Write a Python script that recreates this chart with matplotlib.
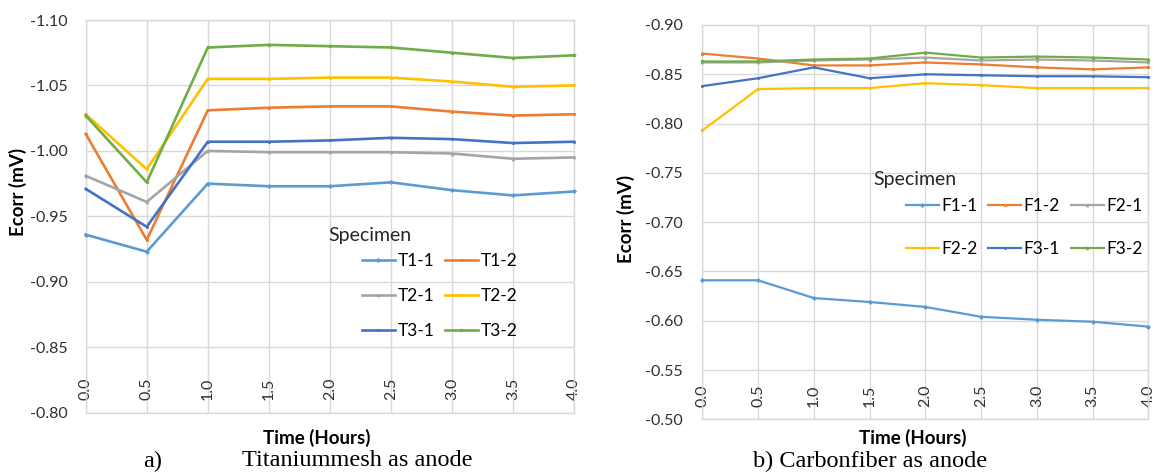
import matplotlib
matplotlib.use("Agg")
import matplotlib.pyplot as plt

plt.rcParams["axes.unicode_minus"] = False
plt.rcParams["font.family"] = ["Lato", "DejaVu Sans"]

# Time axis (hours)
time_h = [0.0, 0.5, 1.0, 1.5, 2.0, 2.5, 3.0, 3.5, 4.0]
time_labels = ["0.0", "0.5", "1.0", "1.5", "2.0", "2.5", "3.0", "3.5", "4.0"]

# Titanium mesh anode specimens (Ecorr)
ti_names = ["T1-1", "T1-2", "T2-1", "T2-2", "T3-1", "T3-2"]
t1_1 = [-0.936, -0.923, -0.975, -0.973, -0.973, -0.976, -0.970, -0.966, -0.969]
t1_2 = [-1.013, -0.932, -1.031, -1.033, -1.034, -1.034, -1.030, -1.027, -1.028]
t2_1 = [-0.981, -0.961, -1.000, -0.999, -0.999, -0.999, -0.998, -0.994, -0.995]
t2_2 = [-1.028, -0.986, -1.055, -1.055, -1.056, -1.056, -1.053, -1.049, -1.050]
t3_1 = [-0.971, -0.942, -1.007, -1.007, -1.008, -1.010, -1.009, -1.006, -1.007]
t3_2 = [-1.027, -0.976, -1.079, -1.081, -1.080, -1.079, -1.075, -1.071, -1.073]

# Carbon fiber anode specimens (Ecorr)
cf_names = ["F1-1", "F1-2", "F2-1", "F2-2", "F3-1", "F3-2"]
f1_1 = [-0.641, -0.641, -0.623, -0.619, -0.614, -0.604, -0.601, -0.599, -0.594]
f1_2 = [-0.871, -0.866, -0.859, -0.859, -0.862, -0.860, -0.857, -0.855, -0.857]
f2_1 = [-0.862, -0.862, -0.864, -0.865, -0.867, -0.864, -0.865, -0.864, -0.862]
f2_2 = [-0.793, -0.835, -0.836, -0.836, -0.841, -0.839, -0.836, -0.836, -0.836]
f3_1 = [-0.838, -0.846, -0.857, -0.846, -0.850, -0.849, -0.848, -0.848, -0.847]
f3_2 = [-0.863, -0.863, -0.865, -0.866, -0.872, -0.867, -0.868, -0.867, -0.865]

ti_ticks = [-1.10, -1.05, -1.00, -0.95, -0.90, -0.85, -0.80]
cf_ticks = [-0.90, -0.85, -0.80, -0.75, -0.70, -0.65, -0.60, -0.55, -0.50]

colors = ["#5B9BD5", "#ED7D31", "#A5A5A5", "#FFC000", "#4472C4", "#70AD47"]
markers = ["D", "s", "^", "x", (6, 2, 0), "o"]
GRID = "#D9D9D9"
SERIF = ["Liberation Serif", "DejaVu Serif"]

fig = plt.figure(figsize=(11.58, 4.76), dpi=100)
W, H = 1158.0, 476.0


def px_axes(x0, y0, x1, y1):
    return fig.add_axes([x0 / W, 1 - y1 / H, (x1 - x0) / W, (y1 - y0) / H])


def style(ax, yticks, ypad):
    ax.set_xlim(0, 4)
    ax.set_ylim(yticks[-1], yticks[0])
    ax.set_yticks(yticks)
    ax.set_yticklabels([f"{v:.2f}" for v in yticks], fontsize=11.5, color="#303030")
    ax.set_xticks(time_h)
    ax.set_xticklabels(time_labels, fontsize=11.5, color="#303030", rotation=90)
    ax.tick_params(axis="y", length=0, pad=ypad)
    ax.tick_params(axis="x", length=0, pad=-9)
    for lbl in ax.get_xticklabels():
        lbl.set_va("bottom")
    ax.grid(True, color=GRID, lw=1.0)
    ax.set_axisbelow(True)
    for sp in ax.spines.values():
        sp.set_color(GRID)
        sp.set_linewidth(1.0)


def draw(ax, series, names, lw, ms):
    handles = []
    for s, name, c, m in zip(series, names, colors, markers):
        ln, = ax.plot(time_h, s, color=c, lw=lw, marker=m, ms=ms, mew=0.6,
                      label=name, clip_on=False, zorder=3)
        handles.append(ln)
    return handles


def row_major(items, ncol):
    # legend fills by column; reorder so entries read across rows
    nrow = -(-len(items) // ncol)
    return [items[r * ncol + c] for c in range(ncol) for r in range(nrow)
            if r * ncol + c < len(items)]


# Panel a: titanium mesh
ax1 = px_axes(85.7, 20, 574, 412.7)
style(ax1, ti_ticks, 13)
h1 = draw(ax1, [t1_1, t1_2, t2_1, t2_2, t3_1, t3_2], ti_names, 1.9, 2.0)
fig.text(17.5 / W, 1 - 191.5 / H, "Ecorr (mV)", rotation=90, fontsize=13.5,
         fontweight="bold", ha="center", va="center")
fig.text(316.7 / W, 1 - 438 / H, "Time (Hours)", fontsize=13.5,
         fontweight="bold", ha="center", va="center")
fig.text(328 / W, 1 - 236 / H, "Specimen", fontsize=14, color="#262626",
         ha="left", va="center")
fig.legend(row_major(h1, 2), row_major(ti_names, 2),
           ncol=2, frameon=False, fontsize=12.5, loc="upper left",
           bbox_to_anchor=(362 / W, 1 - 253 / H), handlelength=1.9,
           handletextpad=0.15, columnspacing=0.6, labelspacing=1.1,
           borderaxespad=0, borderpad=0)

# Panel b: carbon fiber
ax2 = px_axes(702.3, 25, 1148.3, 419.3)
style(ax2, cf_ticks, 14)
h2 = draw(ax2, [f1_1, f1_2, f2_1, f2_2, f3_1, f3_2], cf_names, 1.6, 2.0)
fig.text(626 / W, 1 - 219 / H, "Ecorr (mV)", rotation=90, fontsize=13.5,
         fontweight="bold", ha="center", va="center")
fig.text(913 / W, 1 - 438 / H, "Time (Hours)", fontsize=13.5,
         fontweight="bold", ha="center", va="center")
fig.text(873 / W, 1 - 179 / H, "Specimen", fontsize=14, color="#262626",
         ha="left", va="center")
fig.legend(row_major(h2, 3), row_major(cf_names, 3), ncol=3, frameon=False,
           fontsize=12.5, loc="upper left",
           bbox_to_anchor=(906 / W, 1 - 198 / H),
           handlelength=1.9, handletextpad=0.15, columnspacing=0.6,
           labelspacing=1.55, borderaxespad=0, borderpad=0)

# Captions
fig.text(143 / W, 1 - 461 / H, "a)", fontsize=17.5, family=SERIF,
         ha="left", va="center")
fig.text(241.7 / W, 1 - 461 / H, "Titaniummesh as anode", fontsize=17.5,
         family=SERIF, ha="left", va="center")
fig.text(753 / W, 1 - 461 / H, "b) Carbonfiber as anode", fontsize=17.5,
         family=SERIF, ha="left", va="center")

fig.savefig("out.png", dpi=100)
